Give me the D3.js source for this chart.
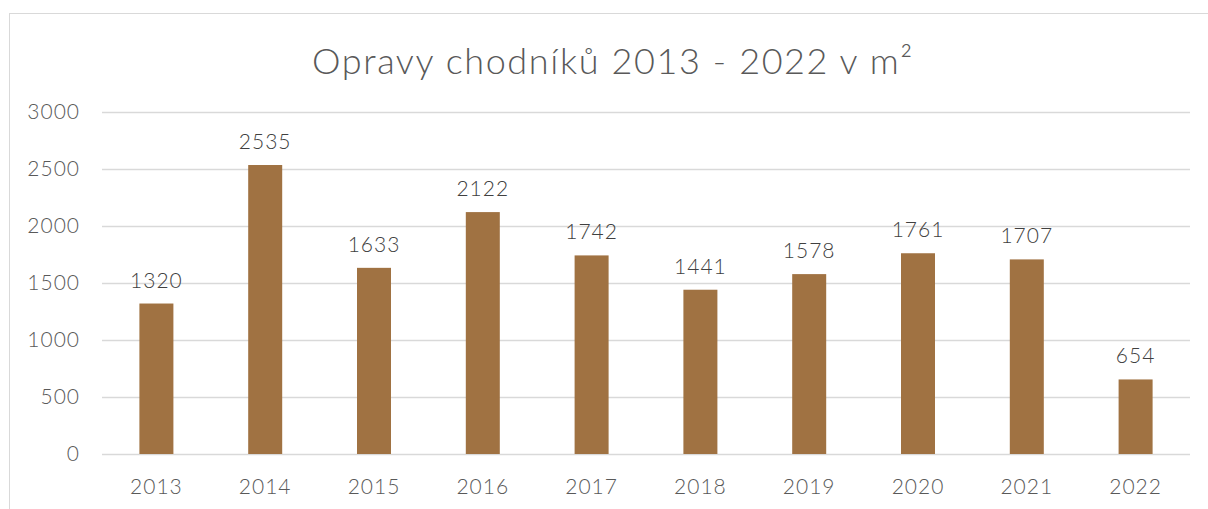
<!DOCTYPE html>
<html>
<head>
<meta charset="utf-8">
<script src="https://cdn.jsdelivr.net/npm/d3@7"></script>
<style>
  body { margin: 0; background: #fff; }
  svg text { font-family: "Lato", "DejaVu Sans", sans-serif; font-weight: 300; fill: #595959; }
</style>
</head>
<body>
<svg id="chart" width="1208" height="509"></svg>
<script>
const title = "Opravy chodníků 2013 - 2022 v m²";
const years = ["2013", "2014", "2015", "2016", "2017", "2018", "2019", "2020", "2021", "2022"];
const values = [1320, 2535, 1633, 2122, 1742, 1441, 1578, 1761, 1707, 654];
const yTicks = [0, 500, 1000, 1500, 2000, 2500, 3000];

const svg = d3.select("#chart");
const plot = {left: 102, right: 1190, top: 112, bottom: 454};

// chart border (only top and left visible in the crop)
svg.append("rect")
  .attr("x", 9.5).attr("y", 13.5)
  .attr("width", 1300).attr("height", 600)
  .attr("fill", "none")
  .attr("stroke", "#d9d9d9");

svg.append("text")
  .attr("x", 613).attr("y", 74)
  .attr("text-anchor", "middle")
  .style("font-size", "36px")
  .style("letter-spacing", "1.6px")
  .text(title);

const x = d3.scaleBand().domain(years).range([plot.left, plot.right]).padding(0);
const y = d3.scaleLinear().domain([0, 3000]).range([plot.bottom, plot.top]);
const barW = x.bandwidth() * 0.3125;

// gridlines
svg.append("g")
  .selectAll("line")
  .data(yTicks)
  .join("line")
  .attr("x1", plot.left).attr("x2", plot.right)
  .attr("y1", d => Math.round(y(d)) + 0.5).attr("y2", d => Math.round(y(d)) + 0.5)
  .attr("stroke", "#d9d9d9")
  .attr("stroke-width", 1.5);

// y labels
svg.append("g")
  .selectAll("text")
  .data(yTicks)
  .join("text")
  .attr("x", 80).attr("y", d => y(d) + 7)
  .attr("text-anchor", "end")
  .style("font-size", "21px")
  .style("letter-spacing", "1px")
  .text(d => d);

// bars
svg.append("g")
  .selectAll("rect")
  .data(values)
  .join("rect")
  .attr("x", (d, i) => x(years[i]) + (x.bandwidth() - barW) / 2)
  .attr("y", d => y(d))
  .attr("width", barW)
  .attr("height", d => y(0) - y(d))
  .attr("fill", "#a07242");

// data labels
svg.append("g")
  .selectAll("text")
  .data(values)
  .join("text")
  .attr("x", (d, i) => x(years[i]) + x.bandwidth() / 2)
  .attr("y", d => y(d) - 16)
  .attr("text-anchor", "middle")
  .style("font-size", "21px")
  .style("letter-spacing", "1px")
  .style("fill", "#404040")
  .text(d => d);

// x labels
svg.append("g")
  .selectAll("text")
  .data(years)
  .join("text")
  .attr("x", d => x(d) + x.bandwidth() / 2)
  .attr("y", 494)
  .attr("text-anchor", "middle")
  .style("font-size", "21px")
  .style("letter-spacing", "1px")
  .text(d => d);
</script>
</body>
</html>
